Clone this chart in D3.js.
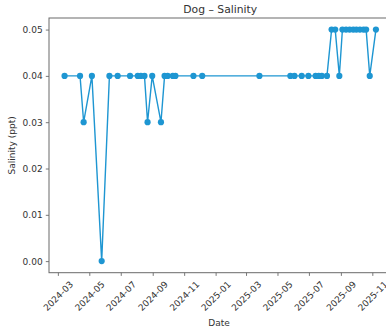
<!DOCTYPE html>
<html>
<head>
<meta charset="utf-8">
<script src="https://cdn.jsdelivr.net/npm/d3@7"></script>
<style>
  html, body { margin: 0; padding: 0; background: #fff; }
  svg { display: block; font-family: "DejaVu Sans", sans-serif; }
</style>
</head>
<body>
<svg id="chart" width="386" height="328"></svg>
<script>
// Salinity readings for the "Dog" site
const dates = [
  "2024-03-14", "2024-04-13", "2024-04-20", "2024-05-06", "2024-05-25",
  "2024-06-09", "2024-06-25", "2024-07-19", "2024-08-03", "2024-08-09",
  "2024-08-16", "2024-08-22", "2024-08-31", "2024-09-17", "2024-09-24",
  "2024-09-30", "2024-10-10", "2024-10-15", "2024-11-19", "2024-12-06",
  "2025-03-27", "2025-05-26", "2025-06-03", "2025-06-17", "2025-06-30",
  "2025-07-14", "2025-07-20", "2025-07-26", "2025-08-05", "2025-08-14",
  "2025-08-21", "2025-08-29", "2025-09-04", "2025-09-11", "2025-09-18",
  "2025-09-25", "2025-10-01", "2025-10-08", "2025-10-15", "2025-10-20",
  "2025-10-27", "2025-11-08"
];
const salinity = [
  0.04, 0.04, 0.03, 0.04, 0.00,
  0.04, 0.04, 0.04, 0.04, 0.04,
  0.04, 0.03, 0.04, 0.03, 0.04,
  0.04, 0.04, 0.04, 0.04, 0.04,
  0.04, 0.04, 0.04, 0.04, 0.04,
  0.04, 0.04, 0.04, 0.04, 0.05,
  0.05, 0.04, 0.05, 0.05, 0.05,
  0.05, 0.05, 0.05, 0.05, 0.05,
  0.04, 0.05
];
const yTicks = [0.00, 0.01, 0.02, 0.03, 0.04, 0.05];
const xTickLabels = [
  "2024-03", "2024-05", "2024-07", "2024-09", "2024-11",
  "2025-01", "2025-03", "2025-05", "2025-07", "2025-09", "2025-11"
];
const title = "Dog \u2013 Salinity";
const xTitle = "Date";
const yTitle = "Salinity (ppt)";

const parse = d3.utcParse("%Y-%m-%d");
const parseMonth = d3.utcParse("%Y-%m");
const data = dates.map((d, i) => ({ date: parse(d), value: salinity[i] }));

const box = { left: 49, top: 18, right: 391.5, bottom: 272.7 };
const color = "#1e96d2";
const ink = "#333";
const spine = "#6a6a6a";

// 5% padding around the data extent on both axes
function padded(ext) {
  const span = ext[1] - ext[0];
  return [ext[0] - span * 0.05, ext[1] + span * 0.05];
}
const tExt = d3.extent(data, d => +d.date);
const yExt = d3.extent(data, d => d.value);
const tPad = padded(tExt);

const x = d3.scaleUtc()
  .domain([new Date(tPad[0]), new Date(tPad[1])])
  .range([box.left, box.right]);
const y = d3.scaleLinear()
  .domain(padded(yExt))
  .range([box.bottom, box.top]);

const svg = d3.select("#chart");

// Y axis
const yAxis = svg.append("g")
  .attr("transform", `translate(${box.left},0)`)
  .call(d3.axisLeft(y).tickValues(yTicks).tickFormat(d3.format(".2f")).tickSize(3.2).tickPadding(3.2));
yAxis.select(".domain").remove();
yAxis.selectAll(".tick line").attr("stroke", spine).attr("stroke-width", 0.9);
yAxis.selectAll(".tick text")
  .attr("fill", ink).attr("font-size", 9).attr("font-family", "DejaVu Sans, sans-serif");

// X axis with rotated labels
const xTickDates = xTickLabels.map(parseMonth);
const xAxis = svg.append("g")
  .attr("transform", `translate(0,${box.bottom})`)
  .call(d3.axisBottom(x).tickValues(xTickDates).tickFormat(d3.utcFormat("%Y-%m")).tickSize(3.2));
xAxis.select(".domain").remove();
xAxis.selectAll(".tick line").attr("stroke", spine).attr("stroke-width", 0.9);
xAxis.selectAll(".tick text")
  .attr("fill", ink).attr("font-size", 9).attr("font-family", "DejaVu Sans, sans-serif")
  .attr("text-anchor", "middle")
  .attr("dominant-baseline", "central")
  .attr("y", 0).attr("dy", 0)
  .attr("transform", "translate(0,23.5) rotate(-45)");

// Frame
svg.append("rect")
  .attr("x", box.left).attr("y", box.top)
  .attr("width", box.right - box.left).attr("height", box.bottom - box.top)
  .attr("fill", "none").attr("stroke", spine).attr("stroke-width", 1);

// Series line and markers
svg.append("path")
  .datum(data)
  .attr("fill", "none")
  .attr("stroke", color)
  .attr("stroke-width", 1.4)
  .attr("stroke-linejoin", "round")
  .attr("d", d3.line().x(d => x(d.date)).y(d => y(d.value)));

svg.append("g").selectAll("circle")
  .data(data)
  .join("circle")
  .attr("cx", d => x(d.date))
  .attr("cy", d => y(d.value))
  .attr("r", 3.1)
  .attr("fill", color);

// Titles
svg.append("text")
  .attr("x", (box.left + box.right) / 2).attr("y", 12.5)
  .attr("text-anchor", "middle").attr("font-size", 10.8).attr("fill", ink)
  .text(title);
svg.append("text")
  .attr("x", 219).attr("y", 326)
  .attr("text-anchor", "middle").attr("font-size", 9).attr("fill", ink)
  .text(xTitle);
svg.append("text")
  .attr("transform", `translate(14.5,${(box.top + box.bottom) / 2}) rotate(-90)`)
  .attr("text-anchor", "middle").attr("font-size", 9).attr("fill", ink)
  .text(yTitle);
</script>
</body>
</html>
